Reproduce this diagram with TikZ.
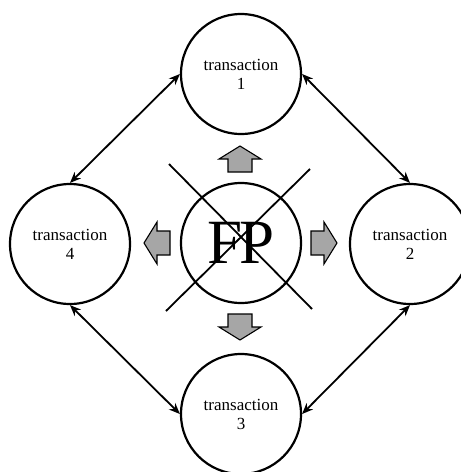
\documentclass[tikz,border=0pt]{standalone}
\usepackage{fontspec}
\setmainfont{Liberation Serif}
\usetikzlibrary{arrows.meta}
\definecolor{arrgray}{RGB}{166,166,166}
\tikzset{
  trans/.style={circle, draw, line width=2.2pt, minimum size=120pt, inner sep=0pt, align=center,
    font=\fontsize{17}{19}\selectfont},
  fpnode/.style={circle, draw, line width=2.2pt, minimum size=120pt, inner sep=0pt,
    font=\fontsize{63}{63}\selectfont},
  link/.style={line width=1.8pt, {Stealth[length=11pt,width=9pt]}-{Stealth[length=11pt,width=9pt]}},
  crossline/.style={line width=1.8pt},
  blockarr/.style={draw=black, line width=1.1pt, fill=arrgray, line join=miter}
}
\begin{document}
\begin{tikzpicture}[x=1pt, y=-1pt]
\useasboundingbox (0,0) rectangle (461,472);
\node[trans] (t1) at (241,74) {transaction\\1};
\node[trans] (t2) at (410,244) {transaction\\2};
\node[trans] (t3) at (241,414) {transaction\\3};
\node[trans] (t4) at (70,244) {transaction\\4};
\node[fpnode] (fp) at (241,243) {F\kern-3ptP};
\draw[link] (t1.west) -- (t4.north);
\draw[link] (t1.east) -- (t2.north);
\draw[link] (t2.south) -- (t3.east);
\draw[link] (t3.west) -- (t4.south);
\coordinate (c1a) at (169,164);
\coordinate (c1b) at (312,309);
\coordinate (c2a) at (310,169);
\coordinate (c2b) at (166,311);
\draw[crossline] (c1a) -- (c1b);
\draw[crossline] (c2a) -- (c2b);
% block arrows: base point, length 26, head length 13, head width 42, shaft width 24
\foreach \bx/\by/\ang in {240/172/90, 240/314/-90, 170/243/180, 311/243/0}{
  \begin{scope}[shift={(\bx,\by)}, rotate=\ang]
    \draw[blockarr] (0,-12) -- (13,-12) -- (13,-21) -- (26,0) -- (13,21) -- (13,12) -- (0,12) -- cycle;
  \end{scope}
}
\end{tikzpicture}
\end{document}
